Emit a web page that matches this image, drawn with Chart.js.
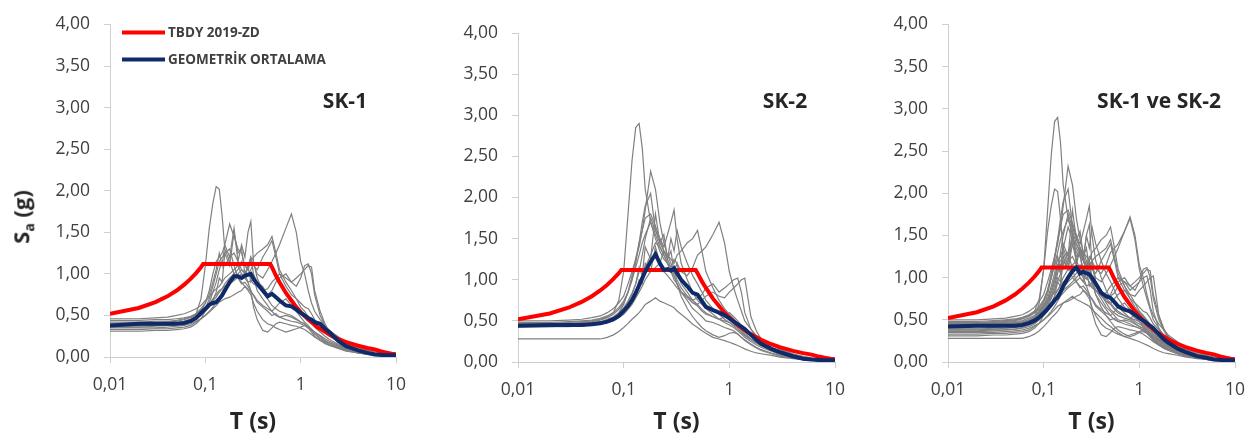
<!DOCTYPE html>
<html>
<head>
<meta charset="utf-8">
<script src="https://cdn.jsdelivr.net/npm/chart.js@4.4.1/dist/chart.umd.min.js"></script>
<style>
  body { margin: 0; background: #fff; width: 1259px; height: 446px; position: relative; overflow: hidden; font-family: "Open Sans", sans-serif; }
  canvas { position: absolute; top: 0; }
  .tag { position: absolute; font-weight: bold; font-size: 21px; color: #262626; transform: translate(-50%, -50%); white-space: nowrap; }
  #ylab { position: absolute; left: 22px; top: 217px; font-weight: bold; font-size: 22px; color: #262626; transform: translate(-50%, -50%) rotate(-90deg); white-space: nowrap; }
  #ylab sub { font-size: 14px; }
</style>
</head>
<body>
<canvas id="sk1" width="420" height="446" style="left:0px"></canvas>
<canvas id="sk2" width="445" height="446" style="left:415px"></canvas>
<canvas id="sk12" width="399" height="446" style="left:860px"></canvas>
<div id="ylab">S<sub>a</sub> (g)</div>
<div class="tag" style="left:345px;top:100px">SK-1</div>
<div class="tag" style="left:785px;top:100px">SK-2</div>
<div class="tag" style="left:1159px;top:100px">SK-1 ve SK-2</div>
<script>
// periyotlar (s)
const periods = [0.01, 0.02, 0.03, 0.04, 0.05, 0.06, 0.07, 0.08, 0.09, 0.10, 0.11, 0.12,
  0.13, 0.14, 0.15, 0.16, 0.18, 0.20, 0.22, 0.24, 0.26, 0.28, 0.30, 0.32,
  0.35, 0.40, 0.45, 0.50, 0.55, 0.60, 0.70, 0.80, 0.90, 1.0, 1.1, 1.2,
  1.3, 1.4, 1.6, 1.8, 2.0, 2.5, 3.0, 4.0, 5.0, 6.0, 8.0, 10.0];

// TBDY 2019 - ZD tasarim spektrumu
const tbdyT = [0.01, 0.02, 0.03, 0.04, 0.05, 0.06, 0.07, 0.08, 0.09, 0.095, 0.48, 0.5, 0.55, 0.6, 0.7, 0.8, 0.9,
  1.0, 1.2, 1.5, 2.0, 2.5, 3.0, 4.0, 5.0, 6.0, 7.0, 8.0, 9.0, 10.0];
const tbdySa = [0.52, 0.59, 0.66, 0.73, 0.80, 0.87, 0.94, 1.01, 1.08, 1.12, 1.12, 1.08, 0.98, 0.90, 0.77, 0.68, 0.60,
  0.54, 0.45, 0.36, 0.27, 0.216, 0.18, 0.135, 0.108, 0.09, 0.066, 0.051, 0.04, 0.032];

// SK-1 kayitlari
const sk1Records = [
  [0.38,0.38,0.39,0.40,0.41,0.43, 0.46,0.52,0.70,1.10,1.55,1.85, 2.05,2.02,1.70,1.30,1.15,1.00, 0.95,0.88,0.90,0.85,0.80,0.74, 0.66,0.60,0.55,0.50,0.52,0.48, 0.50,0.48,0.45,0.42,0.40,0.36, 0.33,0.30,0.25,0.20,0.17,0.12, 0.09,0.06,0.04,0.03,0.02,0.01],
  [0.44,0.44,0.45,0.45,0.46,0.47, 0.49,0.52,0.56,0.60,0.64,0.70, 0.75,0.80,0.82,0.85,0.90,0.95, 1.00,1.05,1.02,0.98,1.05,1.12, 1.00,0.95,1.05,1.15,1.25,1.35, 1.55,1.72,1.50,1.15,1.00,0.80, 0.65,0.55,0.45,0.38,0.32,0.24, 0.18,0.12,0.08,0.06,0.04,0.03],
  [0.40,0.40,0.41,0.42,0.43,0.45, 0.48,0.52,0.58,0.65,0.75,0.90, 1.05,1.25,1.10,1.35,1.20,1.55, 1.15,1.35,1.20,1.50,1.63,1.15, 0.95,0.80,0.70,0.62,0.58,0.55, 0.52,0.50,0.46,0.42,0.40,0.36, 0.33,0.30,0.26,0.22,0.19,0.14, 0.10,0.07,0.05,0.035,0.02,0.015],
  [0.36,0.36,0.37,0.38,0.39,0.41, 0.44,0.48,0.55,0.65,0.80,1.00, 1.15,1.20,1.25,1.35,1.60,1.45, 1.30,1.25,1.10,1.05,1.15,1.20, 1.25,1.30,1.35,1.45,1.25,1.05, 0.90,0.80,0.70,0.60,0.55,0.48, 0.42,0.36,0.30,0.25,0.21,0.15, 0.11,0.07,0.05,0.035,0.02,0.015],
  [0.33,0.33,0.34,0.34,0.35,0.36, 0.38,0.42,0.46,0.50,0.55,0.60, 0.66,0.72,0.78,0.82,0.88,0.92, 0.96,1.00,0.95,0.90,0.92,0.88, 0.85,0.80,0.82,0.90,0.95,1.00, 0.95,0.90,0.95,1.00,1.05,1.10, 1.08,0.80,0.55,0.40,0.30,0.20, 0.14,0.09,0.06,0.04,0.03,0.02],
  [0.31,0.31,0.32,0.32,0.33,0.34, 0.36,0.40,0.46,0.55,0.65,0.78, 0.90,1.05,1.15,1.10,1.20,1.25, 1.15,1.05,1.00,0.90,0.80,0.60, 0.45,0.32,0.30,0.35,0.40,0.42, 0.40,0.38,0.37,0.35,0.33,0.30, 0.27,0.24,0.20,0.17,0.15,0.11, 0.08,0.05,0.035,0.025,0.015,0.01],
  [0.46,0.46,0.47,0.48,0.50,0.52, 0.55,0.58,0.62,0.68,0.72,0.78, 0.82,0.85,0.90,0.95,1.00,1.05, 1.10,1.00,0.95,1.10,1.20,1.00, 0.90,0.85,0.75,0.80,0.90,0.95, 1.00,0.90,0.85,0.95,1.10,1.12, 1.00,0.75,0.50,0.38,0.30,0.22, 0.15,0.10,0.07,0.05,0.03,0.02],
  [0.39,0.39,0.40,0.40,0.41,0.42, 0.44,0.46,0.50,0.55,0.60,0.68, 0.78,0.95,0.90,1.25,1.10,1.50, 1.25,1.30,1.00,1.10,0.90,0.95, 0.80,0.70,0.62,0.55,0.50,0.48, 0.45,0.43,0.42,0.40,0.38,0.35, 0.32,0.28,0.23,0.19,0.17,0.13, 0.10,0.06,0.04,0.03,0.02,0.01],
  [0.35,0.35,0.35,0.36,0.37,0.38, 0.40,0.43,0.46,0.50,0.54,0.58, 0.62,0.66,0.68,0.70,0.72,0.75, 0.78,0.80,0.85,0.82,0.78,0.75, 0.68,0.62,0.58,0.55,0.60,0.65, 0.70,0.62,0.55,0.48,0.42,0.38, 0.33,0.28,0.22,0.18,0.15,0.11, 0.08,0.05,0.035,0.025,0.015,0.01],
  [0.42,0.42,0.43,0.43,0.44,0.46, 0.48,0.50,0.54,0.58,0.62,0.68, 0.72,0.78,0.82,0.88,0.95,1.00, 1.05,1.15,1.10,1.05,1.20,1.10, 1.05,1.20,1.30,1.40,1.20,1.00, 0.85,0.75,0.70,0.65,0.60,0.58, 0.52,0.45,0.38,0.30,0.25,0.18, 0.13,0.09,0.06,0.04,0.03,0.02],
  [0.37,0.37,0.38,0.38,0.39,0.40, 0.42,0.45,0.50,0.58,0.70,0.85, 1.00,1.15,1.20,1.25,1.30,1.10, 0.95,0.90,0.85,0.80,0.75,0.65, 0.55,0.45,0.40,0.38,0.35,0.33, 0.30,0.32,0.34,0.36,0.38,0.35, 0.30,0.25,0.20,0.16,0.14,0.10, 0.07,0.05,0.03,0.02,0.015,0.01]
];

// SK-2 kayitlari
const sk2Records = [
  [0.47,0.47,0.48,0.49,0.50,0.52, 0.55,0.60,0.75,1.10,1.80,2.45, 2.85,2.90,2.60,2.10,1.70,1.50, 1.35,1.25,1.20,1.10,1.05,0.95, 0.85,0.75,0.65,0.60,0.55,0.50, 0.48,0.45,0.42,0.40,0.38,0.34, 0.30,0.27,0.22,0.18,0.15,0.11, 0.08,0.05,0.035,0.025,0.015,0.01],
  [0.50,0.50,0.51,0.52,0.54,0.56, 0.60,0.65,0.72,0.80,0.95,1.10, 1.25,1.40,1.60,1.85,2.32,2.10, 1.70,1.45,1.30,1.20,1.10,1.00, 0.90,0.80,0.72,0.68,0.62,0.58, 0.55,0.52,0.50,0.48,0.45,0.42, 0.38,0.33,0.28,0.24,0.20,0.14, 0.10,0.06,0.04,0.03,0.02,0.015],
  [0.46,0.46,0.47,0.48,0.49,0.51, 0.54,0.58,0.64,0.72,0.85,1.00, 1.20,1.45,1.70,1.90,2.05,1.60, 1.50,1.40,1.55,1.70,1.85,1.50, 1.20,1.00,0.85,0.75,0.70,0.65, 0.58,0.52,0.48,0.45,0.42,0.38, 0.34,0.30,0.25,0.21,0.18,0.13, 0.09,0.06,0.04,0.03,0.02,0.01],
  [0.44,0.44,0.45,0.45,0.46,0.47, 0.49,0.52,0.56,0.62,0.70,0.78, 0.85,0.95,1.05,1.15,1.30,1.45, 1.40,1.30,1.20,1.15,1.25,1.20, 1.10,1.05,1.15,1.30,1.35,1.40, 1.55,1.70,1.45,1.10,0.90,0.75, 0.62,0.50,0.40,0.32,0.28,0.22, 0.16,0.10,0.07,0.05,0.03,0.02],
  [0.45,0.45,0.46,0.46,0.47,0.48, 0.50,0.53,0.58,0.64,0.72,0.82, 0.95,1.10,1.30,1.50,1.75,1.60, 1.45,1.35,1.30,1.25,1.20,1.30, 1.35,1.45,1.50,1.60,1.35,1.10, 0.90,0.75,0.65,0.58,0.52,0.46, 0.40,0.35,0.28,0.23,0.20,0.15, 0.11,0.07,0.05,0.035,0.02,0.015],
  [0.28,0.28,0.28,0.28,0.28,0.28, 0.30,0.33,0.37,0.42,0.47,0.52, 0.56,0.60,0.65,0.70,0.74,0.78, 0.74,0.72,0.70,0.68,0.66,0.62, 0.58,0.52,0.46,0.42,0.38,0.35, 0.30,0.28,0.26,0.24,0.22,0.20, 0.18,0.16,0.13,0.11,0.10,0.08, 0.06,0.04,0.03,0.02,0.015,0.01],
  [0.43,0.43,0.44,0.44,0.45,0.46, 0.48,0.50,0.54,0.58,0.64,0.70, 0.78,0.85,0.92,1.00,1.10,1.15, 1.20,1.10,1.05,1.00,0.95,0.90, 0.85,0.80,0.75,0.78,0.82,0.90, 0.95,0.85,0.90,0.95,1.00,1.02, 0.85,0.60,0.40,0.30,0.25,0.18, 0.13,0.08,0.05,0.04,0.025,0.015],
  [0.48,0.48,0.49,0.50,0.51,0.53, 0.56,0.60,0.66,0.74,0.85,1.00, 1.15,1.30,1.45,1.55,1.70,1.55, 1.40,1.30,1.20,1.10,1.00,0.95, 0.85,0.78,0.72,0.70,0.75,0.80, 0.85,0.80,0.78,0.85,0.90,0.95, 1.00,1.02,0.55,0.38,0.28,0.22, 0.15,0.09,0.06,0.04,0.03,0.02],
  [0.44,0.44,0.44,0.45,0.46,0.47, 0.50,0.54,0.60,0.70,0.85,1.05, 1.25,1.45,1.60,1.75,1.80,1.65, 1.50,1.35,1.25,1.15,1.05,0.95, 0.80,0.65,0.55,0.48,0.42,0.38, 0.33,0.30,0.32,0.35,0.36,0.34, 0.30,0.26,0.21,0.17,0.14,0.10, 0.07,0.05,0.03,0.02,0.015,0.01],
  [0.46,0.46,0.46,0.47,0.48,0.49, 0.52,0.55,0.60,0.66,0.74,0.84, 0.95,1.15,1.05,1.40,1.25,1.80, 1.45,1.55,1.25,1.35,1.10,1.20, 0.95,0.85,0.75,0.70,0.64,0.60, 0.55,0.52,0.55,0.60,0.55,0.50, 0.44,0.38,0.32,0.27,0.24,0.18, 0.13,0.08,0.06,0.04,0.03,0.02],
  [0.43,0.43,0.43,0.44,0.45,0.46, 0.48,0.51,0.55,0.60,0.67,0.75, 0.85,1.00,0.95,1.20,1.10,1.40, 1.20,1.35,1.25,1.50,1.35,1.60, 1.40,1.20,1.05,0.95,0.85,0.75, 0.65,0.58,0.52,0.48,0.44,0.40, 0.36,0.32,0.27,0.23,0.20,0.15, 0.11,0.07,0.05,0.035,0.02,0.015]
];

// geometrik ortalamalar
const sk1Mean = [0.38,0.40,0.40,0.40,0.40,0.41, 0.43,0.47,0.53,0.58,0.63,0.65, 0.66,0.70,0.74,0.80,0.90,0.97, 0.97,0.95,0.98,0.99,1.00,0.94, 0.88,0.80,0.73,0.76,0.72,0.68, 0.62,0.61,0.57,0.53,0.50,0.47, 0.45,0.42,0.40,0.34,0.30,0.19, 0.13,0.08,0.05,0.03,0.02,0.02];
const sk2Mean = [0.44,0.45,0.45,0.45,0.46,0.47, 0.49,0.52,0.56,0.62,0.68,0.75, 0.84,0.93,1.02,1.10,1.22,1.31, 1.20,1.12,1.13,1.11,1.14,1.08, 1.00,0.92,0.84,0.82,0.74,0.67, 0.63,0.60,0.57,0.53,0.49,0.46, 0.43,0.40,0.33,0.27,0.22,0.16, 0.12,0.07,0.04,0.03,0.02,0.02];
const allMean = [0.42,0.43,0.43,0.43,0.43,0.44, 0.46,0.49,0.53,0.58,0.63,0.68, 0.73,0.77,0.83,0.90,1.00,1.08, 1.12,1.05,1.07,1.05,1.04,1.00, 0.93,0.82,0.78,0.76,0.71,0.66, 0.62,0.60,0.56,0.52,0.49,0.46, 0.43,0.40,0.33,0.27,0.23,0.16, 0.12,0.07,0.05,0.03,0.02,0.02];

// eksen etiketleri
const xTicks = [0.01, 0.1, 1, 10];
const xTickLabels = ['0,01', '0,1', '1', '10'];

const FONT = '"Open Sans"';
const AXIS_GREY = '#cfcfcf';

function toPoints(xs, ys) {
  return xs.map((x, i) => ({ x: x, y: ys[i] }));
}

// legend drawn inside the plot area (first panel only)
const lineLegend = {
  id: 'lineLegend',
  afterDraw(chart, args, opts) {
    if (!opts.show) return;
    const ctx = chart.ctx, a = chart.chartArea;
    const items = chart.data.datasets.filter(d => d.legendPos).sort((p, q) => p.legendPos - q.legendPos);
    ctx.save();
    ctx.font = 'bold 13.5px ' + FONT;
    ctx.textBaseline = 'middle';
    items.forEach((d, i) => {
      const y = a.top + 8 + i * 27;
      ctx.strokeStyle = d.borderColor;
      ctx.lineWidth = d.borderWidth;
      ctx.beginPath();
      ctx.moveTo(a.left + 12, y);
      ctx.lineTo(a.left + 55, y);
      ctx.stroke();
      ctx.fillStyle = '#404040';
      ctx.fillText(d.label, a.left + 58, y + 1);
    });
    ctx.restore();
  }
};

function makePanel(id, pad, titlePad, records, mean, showLegend) {
  const datasets = [
    { label: 'GEOMETRİK ORTALAMA', data: toPoints(periods, mean), borderColor: '#0e2a69', borderWidth: 4, legendPos: 2 },
    { label: 'TBDY 2019-ZD', data: toPoints(tbdyT, tbdySa), borderColor: '#ff0000', borderWidth: 4, legendPos: 1 }
  ];
  records.forEach((r, i) => {
    datasets.push({ label: 'Kayıt ' + (i + 1), data: toPoints(periods, r), borderColor: '#808080', borderWidth: 1.2 });
  });

  return new Chart(document.getElementById(id), {
    type: 'line',
    data: { datasets: datasets },
    plugins: [lineLegend],
    options: {
      responsive: false,
      animation: false,
      layout: { padding: pad },
      elements: { point: { radius: 0 }, line: { tension: 0 } },
      plugins: {
        legend: { display: false },
        tooltip: { enabled: false },
        lineLegend: { show: showLegend }
      },
      scales: {
        x: {
          type: 'logarithmic',
          min: 0.01,
          max: 10,
          afterBuildTicks: s => { s.ticks = xTicks.map(v => ({ value: v })); },
          afterFit: s => { s.height = 80; },
          ticks: {
            autoSkip: false, maxRotation: 0, padding: 12, color: '#404040',
            font: { family: FONT, size: 17.5 },
            callback: (v, i) => xTickLabels[i]
          },
          grid: { drawOnChartArea: false, tickLength: 6, color: AXIS_GREY },
          border: { color: AXIS_GREY },
          title: {
            display: true, text: 'T (s)', color: '#262626',
            font: { family: FONT, size: 23, weight: 'bold' },
            padding: { top: 0, bottom: titlePad }
          }
        },
        y: {
          min: 0,
          max: 4,
          afterFit: s => { s.width = 70; },
          ticks: {
            stepSize: 0.5, padding: 14, color: '#404040',
            font: { family: FONT, size: 17.5 },
            callback: v => v.toFixed(2).replace('.', ',')
          },
          grid: { drawOnChartArea: false, tickLength: 6, color: AXIS_GREY },
          border: { color: AXIS_GREY }
        }
      }
    }
  });
}

makePanel('sk1', { left: 40, right: 24, top: 20, bottom: 9 }, 0.3, sk1Records, sk1Mean, true);
makePanel('sk2', { left: 33, right: 25, top: 33, bottom: 4 }, 5.3, sk2Records, sk2Mean, false);
makePanel('sk12', { left: 18, right: 24, top: 15, bottom: 4 }, 5.3, sk1Records.concat(sk2Records), allMean, false);
</script>
</body>
</html>
